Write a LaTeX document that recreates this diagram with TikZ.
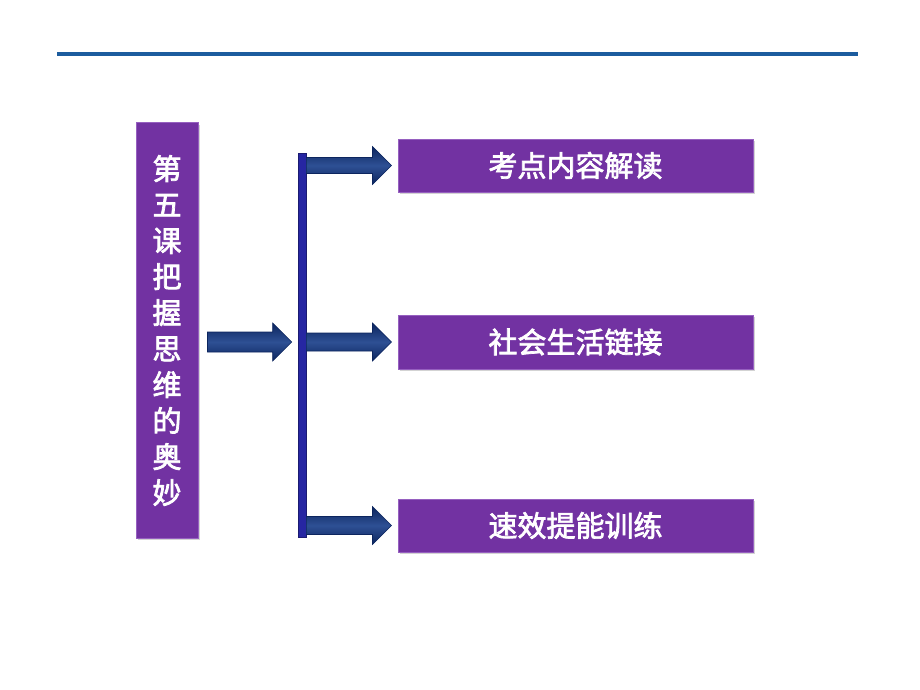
\documentclass[tikz,border=0pt]{standalone}
\usepackage{fontspec}
\newfontfamily\cjk[FakeBold=2.5]{Noto Sans CJK SC}
\usetikzlibrary{calc,shadows}
\definecolor{topline}{HTML}{1C5C9E}
\definecolor{boxpurple}{HTML}{7232A2}
\definecolor{boxedge}{HTML}{9660C0}
\definecolor{navy}{HTML}{0C255E}
\definecolor{navylight}{HTML}{2E5094}
\definecolor{barblue}{HTML}{2626A2}
\tikzset{
  purplebox/.style={draw=boxedge, line width=1pt, fill=boxpurple, inner sep=0pt,
    drop shadow={opacity=0.35, shadow xshift=2pt, shadow yshift=-2pt},
    text=white, font=\cjk\fontsize{29}{36}\selectfont},
  arrowshade/.style={top color=navy, bottom color=navy, middle color=navylight, draw=navy, line width=0.6pt},
  barstyle/.style={fill=barblue, draw=barblue!70!black, line width=0.6pt, inner sep=0pt}
}
% #1 start, #2 end, #3 shaft half height, #4 head half height, #5 head length
\newcommand\blockarrow[5]{%
  \shadedraw[arrowshade] let \p1=(#1), \p2=(#2) in
    (\x1,\y1+#3) -- (\x2-#5,\y1+#3) -- (\x2-#5,\y1+#4) -- (\x2,\y1)
    -- (\x2-#5,\y1-#4) -- (\x2-#5,\y1-#3) -- (\x1,\y1-#3) -- cycle;}
\begin{document}
\begin{tikzpicture}[x=1pt,y=-1pt]
\useasboundingbox (0,0) rectangle (920,690);
% top rule
\coordinate (tl) at (57,54);
\coordinate (tr) at (858,54);
\draw[topline, line width=4pt] (tl) -- (tr);
% left box
\node[purplebox, minimum width=62pt, minimum height=415pt, align=center] (lb) at (167,330.5)
  {第\\五\\课\\把\\握\\思\\维\\的\\奥\\妙};
% right boxes
\node[purplebox, minimum width=355pt, minimum height=53pt] (r1) at (575.5,165.5) {考点内容解读};
\node[purplebox, minimum width=355pt, minimum height=54pt] (r2) at (575.5,342) {社会生活链接};
\node[purplebox, minimum width=355pt, minimum height=53pt] (r3) at (575.5,525.5) {速效提能训练};
% vertical bar
\node[barstyle, minimum width=8pt, minimum height=384pt] (bar) at (302,345) {};
% arrows
\coordinate (a0s) at ($(lb.east |- r2.west)+(9,0)$);
\coordinate (a0e) at ($(bar.west |- r2.west)+(-6,0)$);
\blockarrow{a0s}{a0e}{10pt}{19pt}{19pt}
\coordinate (a1s) at (bar.east |- r1.west);
\coordinate (a1e) at ($(r1.west)+(-6,0)$);
\blockarrow{a1s}{a1e}{8pt}{19pt}{19pt}
\coordinate (a2s) at (bar.east |- r2.west);
\coordinate (a2e) at ($(r2.west)+(-6,0)$);
\blockarrow{a2s}{a2e}{9pt}{19pt}{19pt}
\coordinate (a3s) at (bar.east |- r3.west);
\coordinate (a3e) at ($(r3.west)+(-6,0)$);
\blockarrow{a3s}{a3e}{9pt}{19pt}{19pt}
\end{tikzpicture}
\end{document}
